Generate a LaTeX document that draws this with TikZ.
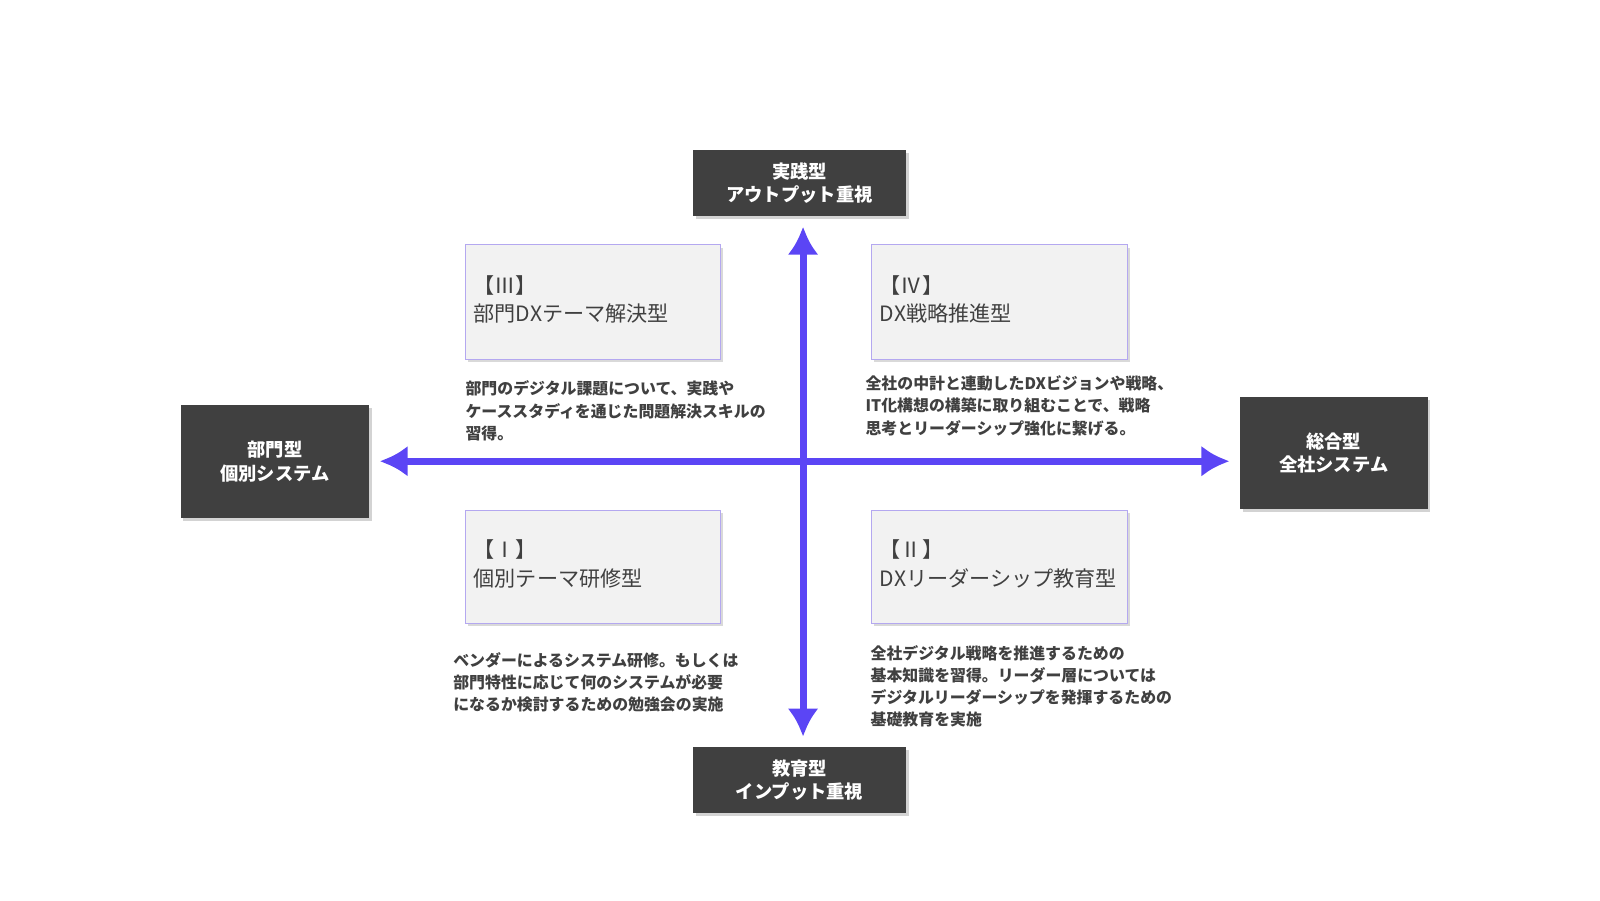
\documentclass[tikz,border=0pt]{standalone}
\usepackage{fontspec}
\setmainfont{Noto Sans CJK JP}
\usetikzlibrary{shadows,arrows.meta}
\definecolor{dark}{HTML}{404040}
\definecolor{arr}{HTML}{5B45F5}
\definecolor{boxfill}{HTML}{F2F2F2}
\definecolor{boxline}{HTML}{B4A8F0}
\newlength{\upx}\setlength{\upx}{0.0255cm}
\tikzset{
 axisbox/.style={fill=dark,text=white,font=\bfseries\fontsize{13}{16.5}\selectfont,align=center,inner sep=0pt,drop shadow={shadow xshift=2pt,shadow yshift=-2pt,opacity=0.35}},
 quad/.style={fill=boxfill,draw=boxline,line width=0.6pt,drop shadow={shadow xshift=2pt,shadow yshift=-2pt,opacity=0.3},inner sep=0pt},
 qtxt/.style={anchor=north west,align=left,text=dark,font=\fontsize{15}{20}\selectfont,inner sep=0pt},
 desc/.style={anchor=north west,align=left,text=dark,font=\bfseries\fontsize{11.3}{15.8}\selectfont,inner sep=0pt},
 axarrow/.style={draw=arr,line width=5pt,-{Latex[length=20pt,width=22pt]}}
}
\begin{document}
\begin{tikzpicture}[x=\upx,y=-\upx]
\useasboundingbox (0,0) rectangle (1568,882);
\node[axisbox,minimum width=209\upx,minimum height=65\upx] (top) at (783.5,179.5) {実践型\\アウトプット重視};
\node[axisbox,minimum width=209\upx,minimum height=65\upx] (bot) at (783.5,764.5) {教育型\\インプット重視};
\node[axisbox,minimum width=185\upx,minimum height=111\upx] (left) at (269.5,452.5) {部門型\\個別システム};
\node[axisbox,minimum width=184\upx,minimum height=110\upx] (right) at (1307,444) {総合型\\全社システム};
\coordinate (c) at (787,452);
\coordinate (vt) at (787,222);
\coordinate (vb) at (787,722);
\coordinate (hl) at (372,452);
\coordinate (hr) at (1205,452);
\draw[axarrow] (c) -- (vt);
\draw[axarrow] (c) -- (vb);
\draw[axarrow] (c) -- (hl);
\draw[axarrow] (c) -- (hr);
\node[quad,minimum width=250\upx,minimum height=112\upx] (q3) at (581,296) {};
\node[quad,minimum width=251\upx,minimum height=112\upx] (q4) at (979.5,296) {};
\node[quad,minimum width=250\upx,minimum height=111\upx] (q1) at (581,555.5) {};
\node[quad,minimum width=251\upx,minimum height=111\upx] (q2) at (979.5,555.5) {};
\node[qtxt] (t3) at (464,270) {【Ⅲ】\\部門DXテーマ解決型};
\node[qtxt] (t4) at (862,270) {【Ⅳ】\\DX戦略推進型};
\node[qtxt] (t1) at (464,529) {【Ⅰ】\\個別テーマ研修型};
\node[qtxt] (t2) at (862,529) {【Ⅱ】\\DXリーダーシップ教育型};
\node[desc] (d3) at (456,373) {部門のデジタル課題について、実践や\\ケーススタディを通じた問題解決スキルの\\習得。};
\node[desc] (d4) at (848,368) {全社の中計と連動したDXビジョンや戦略、\\IT化構想の構築に取り組むことで、戦略\\思考とリーダーシップ強化に繋げる。};
\node[desc] (d1) at (444,639) {ベンダーによるシステム研修。もしくは\\部門特性に応じて何のシステムが必要\\になるか検討するための勉強会の実施};
\node[desc] (d2) at (853,632) {全社デジタル戦略を推進するための\\基本知識を習得。リーダー層については\\デジタルリーダーシップを発揮するための\\基礎教育を実施};
\end{tikzpicture}
\end{document}
